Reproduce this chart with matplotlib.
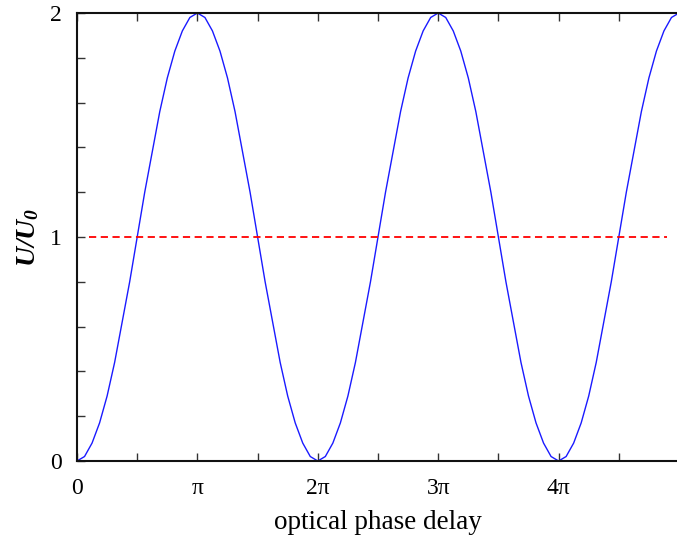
import numpy as np
import matplotlib
matplotlib.use("Agg")
import matplotlib.pyplot as plt
from matplotlib.ticker import FixedLocator, FixedFormatter

phase_pi = np.linspace(0, 5, 81)
u_ratio = [
    0.00, 0.02, 0.08, 0.17, 0.29, 0.44, 0.62, 0.80, 1.00, 1.20, 1.38, 1.56, 1.71, 1.83, 1.92, 1.98,
    2.00, 1.98, 1.92, 1.83, 1.71, 1.56, 1.38, 1.20, 1.00, 0.80, 0.62, 0.44, 0.29, 0.17, 0.08, 0.02,
    0.00, 0.02, 0.08, 0.17, 0.29, 0.44, 0.62, 0.80, 1.00, 1.20, 1.38, 1.56, 1.71, 1.83, 1.92, 1.98,
    2.00, 1.98, 1.92, 1.83, 1.71, 1.56, 1.38, 1.20, 1.00, 0.80, 0.62, 0.44, 0.29, 0.17, 0.08, 0.02,
    0.00, 0.02, 0.08, 0.17, 0.29, 0.44, 0.62, 0.80, 1.00, 1.20, 1.38, 1.56, 1.71, 1.83, 1.92, 1.98,
    2.00,
]
ref_level = 1.0
ref_span_pi = [0.1, 4.9]

x_tick_pi = [0, 0.5, 1, 1.5, 2, 2.5, 3, 3.5, 4, 4.5]
x_tick_labels = ["0", "", "π", "", "2π", "", "3π", "", "4π", ""]
y_ticks = [0, 0.2, 0.4, 0.6, 0.8, 1.0, 1.2, 1.4, 1.6, 1.8, 2.0]
y_tick_labels = ["0", "", "", "", "", "1", "", "", "", "", "2"]

plt.rcParams['font.family'] = ['Liberation Serif', 'DejaVu Serif']
plt.rcParams['mathtext.fontset'] = 'custom'
plt.rcParams['mathtext.it'] = 'Liberation Serif:italic:bold'
plt.rcParams['mathtext.rm'] = 'Liberation Serif:italic:bold'

fig = plt.figure(figsize=(6.77, 5.42), dpi=100)
ax = fig.add_axes([77/677, (542-461)/542, (679-77)/677, (461-13)/542])

x = np.array(phase_pi) * np.pi
ax.plot(x, u_ratio, color='#1a1aff', lw=1.0)
ax.plot(np.array(ref_span_pi) * np.pi, [ref_level, ref_level], color='#ff0000',
        lw=1.3, linestyle=(0, (4, 2.5)))

ax.set_xlim(0, 5 * np.pi)
ax.set_ylim(0, 2)

ax.xaxis.set_major_locator(FixedLocator(np.array(x_tick_pi) * np.pi))
ax.xaxis.set_major_formatter(FixedFormatter(x_tick_labels))
ax.yaxis.set_major_locator(FixedLocator(y_ticks))
ax.yaxis.set_major_formatter(FixedFormatter(y_tick_labels))

ax.tick_params(axis='both', direction='in', length=6, width=1.0, color='#333333',
               labelsize=17, top=True, right=False)
ax.tick_params(axis='x', pad=12)
ax.tick_params(axis='y', pad=11)

for s in ['left', 'bottom', 'top', 'right']:
    ax.spines[s].set_linewidth(1.5)
    ax.spines[s].set_color('#111111')

ax.set_xlabel('optical phase delay', fontsize=19.5, labelpad=8)
ax.set_ylabel(r'$U/U_0$', fontsize=20, labelpad=6)

fig.savefig('out.png', dpi=100)
